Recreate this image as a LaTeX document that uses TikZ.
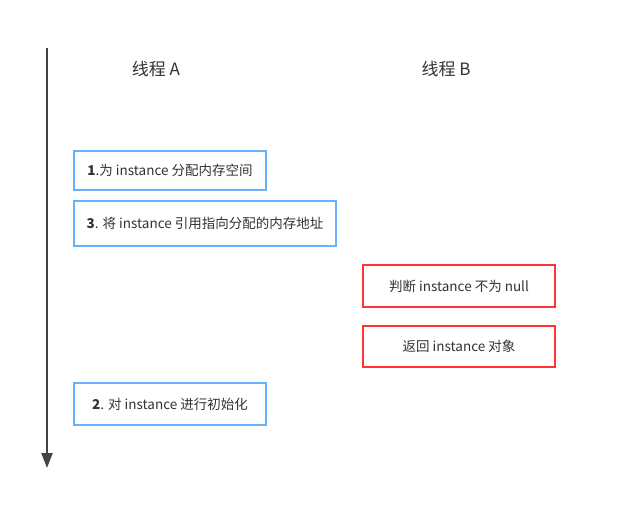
\documentclass[tikz,border=0pt]{standalone}
\usepackage{fontspec}
\setmainfont{Noto Sans CJK SC}
\usetikzlibrary{arrows.meta}
\definecolor{bblue}{RGB}{102,178,255}
\definecolor{rred}{RGB}{255,51,51}
\definecolor{tgray}{RGB}{51,51,51}
\definecolor{agray}{RGB}{68,68,68}
\tikzset{
  bx/.style={draw=#1, line width=2pt, fill=white, inner sep=0pt, text=tgray, font=\fontsize{13.5}{16}\selectfont},
  hd/.style={text=tgray, font=\fontsize{17}{20}\selectfont, inner sep=0pt}
}
\begin{document}
\begin{tikzpicture}[x=1pt,y=-1pt]
\useasboundingbox[fill=white] (0,0) rectangle (617,528);
\coordinate (top) at (47,48);
\coordinate (bot) at (47,468);
\draw[agray, line width=2pt, -{Triangle[width=11pt,length=15pt]}] (top) -- (bot);
\node[hd] (ha) at (156,69) {线程 A};
\node[hd] (hb) at (446,69) {线程 B};
\node[bx=bblue, minimum width=192pt, minimum height=39pt] (s1) at (170,170.5) {\textbf{1}.为 instance 分配内存空间};
\node[bx=bblue, minimum width=262pt, minimum height=45pt] (s3) at (205,223.5) {\textbf{3}. 将 instance 引用指向分配的内存地址};
\node[bx=rred, minimum width=192pt, minimum height=42pt] (r1) at (459,286) {判断 instance 不为 null};
\node[bx=rred, minimum width=192pt, minimum height=41pt] (r2) at (459,346.5) {返回 instance 对象};
\node[bx=bblue, minimum width=192pt, minimum height=42pt] (s2) at (170,404) {\textbf{2}. 对 instance 进行初始化};
\end{tikzpicture}
\end{document}
